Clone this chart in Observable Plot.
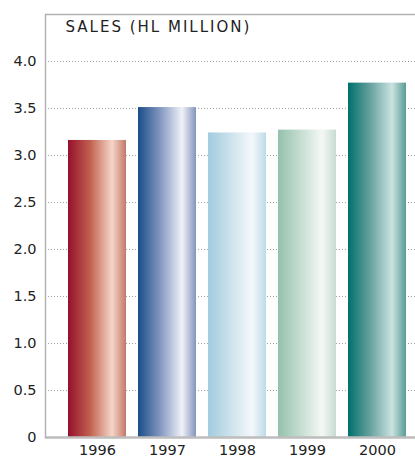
<!DOCTYPE html>
<html>
<head>
<meta charset="utf-8">
<script src="https://cdn.jsdelivr.net/npm/d3@7"></script>
<script src="https://cdn.jsdelivr.net/npm/@observablehq/plot@0.6"></script>
<style>
  html, body { margin: 0; padding: 0; background: #fff; }
</style>
</head>
<body>
<div id="chart"></div>
<script>
const years = ["1996", "1997", "1998", "1999", "2000"];
const sales = [3.16, 3.51, 3.24, 3.27, 3.77];
const yTicks = [0, 0.5, 1.0, 1.5, 2.0, 2.5, 3.0, 3.5, 4.0];
const title = "SALES (HL MILLION)";
// gradient stops per bar: left, mid, peak, right
const gradientStops = [
  ["#96102c", "#c0604f", "#f5d6c8", "#c47868"],
  ["#1a4e88", "#8296bf", "#f0f2f8", "#8494bd"],
  ["#a2cbdf", "#cbe2ec", "#f4f8fa", "#bedbe8"],
  ["#94c1ac", "#c4ddd0", "#f4f8f6", "#c6dcd1"],
  ["#00706c", "#66a19e", "#cae3df", "#5a9b97"]
];

const data = years.map((year, i) => ({year, value: sales[i], idx: i}));

function gradientDefs() {
  const defs = d3.create("svg:defs");
  years.forEach((y, i) => {
    const g = defs.append("linearGradient")
      .attr("id", "grad" + y)
      .attr("x1", "0%").attr("x2", "100%").attr("y1", "0%").attr("y2", "0%");
    const s = gradientStops[i];
    g.append("stop").attr("offset", "0%").attr("stop-color", s[0]);
    g.append("stop").attr("offset", "38%").attr("stop-color", s[1]);
    g.append("stop").attr("offset", "76%").attr("stop-color", s[2]);
    g.append("stop").attr("offset", "100%").attr("stop-color", s[3]);
  });
  return defs.node();
}

const chart = Plot.plot({
  width: 415,
  height: 459,
  marginLeft: 45,
  marginRight: 0,
  marginTop: 14,
  marginBottom: 22,
  style: {fontFamily: "DejaVu Sans", fontSize: "14.5px", color: "#222", background: "#fff"},
  x: {domain: years, paddingInner: 0.166, paddingOuter: 0.198, align: 0.714, label: null},
  y: {domain: [0, 4.5], label: null},
  marks: [
    gradientDefs,
    Plot.ruleY(yTicks.filter(d => d > 0), {stroke: "#a0a0a0", strokeWidth: 1, strokeDasharray: "1,2"}),
    Plot.barY(data, {x: "year", y: "value", fill: d => `url(#grad${d.year})`}),
    Plot.ruleY([0], {stroke: "#bdbdbd", strokeWidth: 2.5}),
    Plot.ruleY([4.5], {stroke: "#b3b3b3", strokeWidth: 1.5}),
    Plot.frame({anchor: "left", stroke: "#b3b3b3", strokeWidth: 1.5}),
    Plot.axisY({ticks: yTicks, tickSize: 0, tickPadding: 9, tickFormat: d => d === 0 ? "0" : d.toFixed(1), label: null}),
    Plot.axisX({tickSize: 0, tickPadding: 7, label: null}),
    Plot.text([title], {frameAnchor: "top-left", textAnchor: "start", lineAnchor: "top", dx: 20, dy: 7, fontSize: 15, fill: "#222"})
  ]
});

d3.select(chart).selectAll("text").filter(function() { return this.textContent === title; })
  .style("letter-spacing", "2px");

document.getElementById("chart").appendChild(chart);
</script>
</body>
</html>
